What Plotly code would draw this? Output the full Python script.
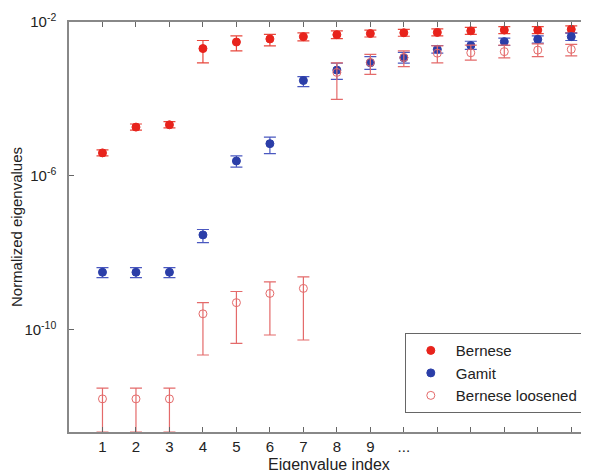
import numpy as np
import plotly.graph_objects as go

# Eigenvalue index
idx = list(range(1, 16))
tick_labels = ["1", "2", "3", "4", "5", "6", "7", "8", "9", "...", "", "", "", "", ""]

# log10 of normalized eigenvalues (center, upper bound, lower bound)
bern_c = [-5.40, -4.73, -4.67, -2.69, -2.52, -2.44, -2.38, -2.33, -2.30, -2.28, -2.27, -2.23, -2.21, -2.21, -2.19]
bern_u = [-5.32, -4.65, -4.59, -2.48, -2.36, -2.32, -2.28, -2.23, -2.21, -2.19, -2.18, -2.14, -2.12, -2.12, -2.10]
bern_l = [-5.48, -4.81, -4.75, -3.06, -2.75, -2.62, -2.49, -2.43, -2.39, -2.37, -2.36, -2.32, -2.30, -2.30, -2.28]

gamit_c = [-8.50, -8.50, -8.50, -7.53, -5.61, -5.16, -3.52, -3.25, -3.06, -2.93, -2.71, -2.61, -2.51, -2.45, -2.38]
gamit_u = [-8.38, -8.38, -8.38, -7.39, -5.48, -4.99, -3.42, -3.07, -2.90, -2.79, -2.61, -2.50, -2.42, -2.36, -2.29]
gamit_l = [-8.64, -8.64, -8.64, -7.73, -5.77, -5.42, -3.68, -3.49, -3.23, -3.07, -2.81, -2.71, -2.61, -2.55, -2.48]

loose_c = [-11.79, -11.79, -11.79, -9.58, -9.29, -9.05, -8.92, -3.31, -3.05, -2.92, -2.81, -2.80, -2.77, -2.73, -2.71]
loose_u = [-11.51, -11.51, -11.51, -9.29, -9.00, -8.75, -8.62, -3.06, -2.84, -2.75, -2.62, -2.60, -2.60, -2.57, -2.58]
loose_l = [-12.65, -12.65, -12.65, -10.65, -10.35, -10.13, -10.26, -4.01, -3.36, -3.16, -3.06, -2.99, -2.93, -2.90, -2.88]

x_title = "Eigenvalue index"
y_title = "Normalized eigenvalues"

FONT = "Liberation Sans, Arial, sans-serif"


def trace(name, c, u, l, color, barcolor, symbol):
    c = np.array(c); u = np.array(u); l = np.array(l)
    y = 10.0 ** c
    return go.Scatter(
        x=idx, y=y, mode="markers", name=name,
        marker=dict(size=8, color=color, symbol=symbol,
                    line=dict(width=1, color=color)),
        error_y=dict(type="data", symmetric=False,
                     array=10.0 ** u - y, arrayminus=y - 10.0 ** l,
                     color=barcolor, thickness=1.2, width=6),
    )


fig = go.Figure()
fig.add_trace(trace("Bernese", bern_c, bern_u, bern_l, "#e8231c", "#e8473c", "circle"))
fig.add_trace(trace("Gamit", gamit_c, gamit_u, gamit_l, "#2b3ea8", "#4a58c0", "circle"))
fig.add_trace(trace("Bernese loosened", loose_c, loose_u, loose_l, "#e46a6a", "#e46a6a", "circle-open"))

fig.update_layout(
    template="none",
    width=581, height=462,
    margin=dict(l=61, r=1, t=14, b=38),
    paper_bgcolor="white", plot_bgcolor="white",
    font=dict(family=FONT, size=15, color="#222"),
    showlegend=True,
    legend=dict(x=0.99, y=0.046, xanchor="right", yanchor="bottom",
                bgcolor="white", bordercolor="#666", borderwidth=1,
                font=dict(size=15, family=FONT, color="#222"),
                itemwidth=40, tracegroupgap=0),
    annotations=[dict(text=x_title, xref="paper", yref="paper", x=0.5, y=0,
                      xanchor="center", yanchor="middle", yshift=-32,
                      showarrow=False, font=dict(size=16, color="#222", family=FONT))],
)

fig.update_xaxes(
    range=[0, 15.5], tickmode="array", tickvals=idx, ticktext=tick_labels,
    ticks="inside", ticklen=5, tickcolor="#666", showgrid=False, zeroline=False,
    showline=True, linecolor="#888", linewidth=1.5, mirror="ticks",
    tickfont=dict(size=15, color="#222"),
    automargin=False,
)
fig.update_yaxes(
    type="log", range=[-12.65, -2],
    tickmode="array", tickvals=[1e-2, 1e-6, 1e-10],
    ticktext=["10<sup>-2</sup>", "10<sup>-6</sup>", "10<sup>-10</sup>"],
    ticks="inside", ticklen=5, tickcolor="#666", showgrid=False, zeroline=False,
    showline=True, linecolor="#888", linewidth=1.5, mirror="ticks",
    tickfont=dict(size=15, color="#222"), ticklabelstandoff=8,
    title=dict(text=y_title, font=dict(size=15, color="#222"), standoff=6),
    automargin=False,
)

fig.write_html("out.html")
